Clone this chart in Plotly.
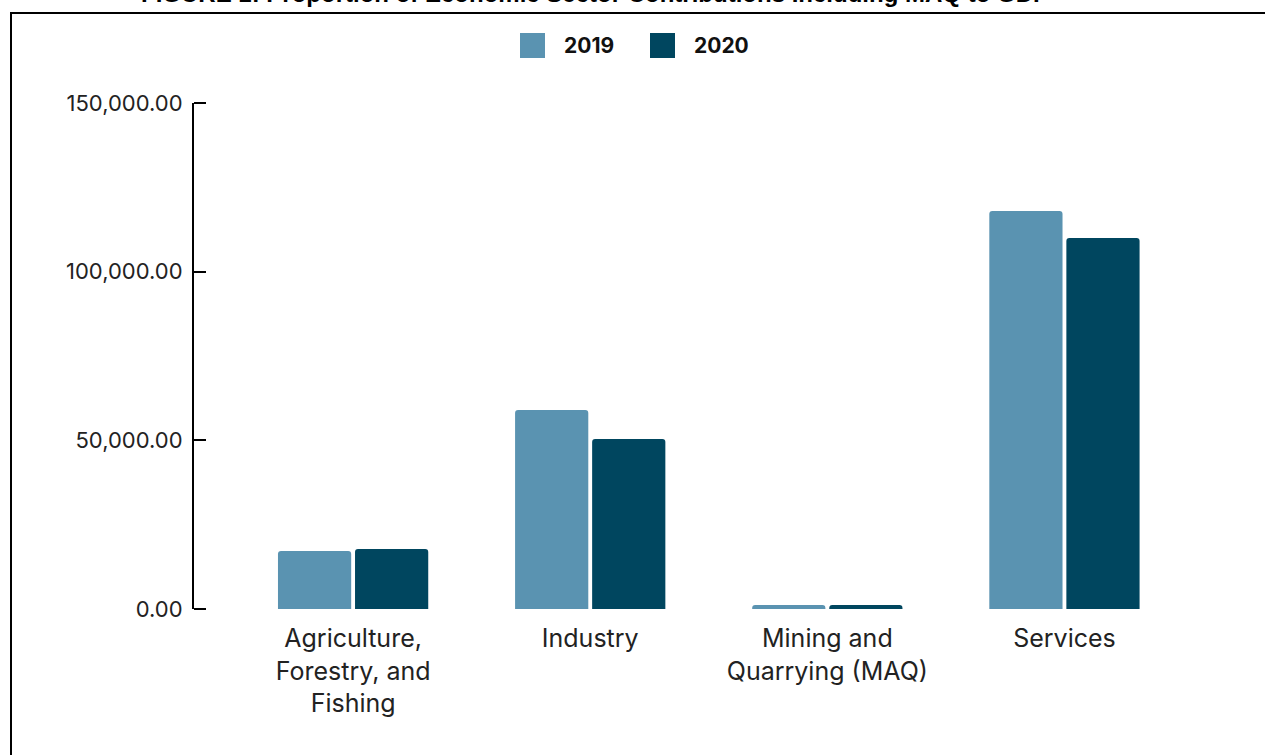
import plotly.graph_objects as go

categories = ["Agriculture,<br>Forestry, and<br>Fishing", "Industry", "Mining and<br>Quarrying (MAQ)", "Services"]
values_2019 = [17200, 59000, 1200, 118000]
values_2020 = [17800, 50400, 1200, 110000]
series_names = ["2019", "2020"]
colors = ["#5A93B1", "#00465F"]
y_ticks = [0, 50000, 100000, 150000]
title_text = "FIGURE 1: Proportion of Economic Sector Contributions Including MAQ to GDP"

W, H = 1265, 755
L, R, T, B = 194, 82, 103, 146
pw = W - L - R
ph = H - T - B

def px_x(p):
    return (p - L) / pw

def px_y(p):
    return (H - B - p) / ph

fig = go.Figure()
for name, vals, col in zip(series_names, [values_2019, values_2020], colors):
    fig.add_trace(go.Bar(x=list(range(len(categories))), y=vals, name=name,
                         marker=dict(color=col, line=dict(width=0), cornerradius=3),
                         showlegend=False))

font_family = "Inter, Roboto, sans-serif"

shapes = [
    dict(type="rect", xref="paper", yref="paper", x0=px_x(11), x1=px_x(1400), y0=px_y(13), y1=px_y(900),
         line=dict(color="black", width=2), fillcolor="rgba(0,0,0,0)", layer="below"),
]
annotations = [
    dict(text="<b>" + title_text + "</b>", xref="paper", yref="paper", x=px_x(595), y=px_y(8.5),
         xanchor="center", yanchor="bottom", showarrow=False,
         font=dict(family="Liberation Sans, Arial, sans-serif", size=24, color="black")),
]
leg = [(520, 562), (650, 692)]
for (sx, tx), name, col in zip(leg, series_names, colors):
    shapes.append(dict(type="rect", xref="paper", yref="paper", x0=px_x(sx), x1=px_x(sx + 25),
                       y0=px_y(58), y1=px_y(33), fillcolor=col, line=dict(width=0)))
    annotations.append(dict(text="<b>" + name + "</b>", xref="paper", yref="paper", x=px_x(tx), y=px_y(45.5),
                            xanchor="left", yanchor="middle", showarrow=False,
                            font=dict(family=font_family, size=21, color="#111")))

fig.update_layout(
    width=W, height=H,
    margin=dict(l=L, r=R, t=T, b=B, autoexpand=False),
    paper_bgcolor="white", plot_bgcolor="white",
    barmode="group", bargap=0.35, bargroupgap=0.05,
    showlegend=False,
    shapes=shapes, annotations=annotations,
    font=dict(family=font_family, size=20, color="#222"),
    xaxis=dict(range=[-0.671, 3.5], tickmode="array", tickvals=list(range(len(categories))),
               ticktext=categories, showline=False, ticks="", showgrid=False, zeroline=False,
               ticklabelstandoff=12,
               tickfont=dict(size=25, color="#222", family=font_family)),
    yaxis=dict(range=[0, 150000], tickvals=y_ticks, tickformat=",.2f",
               showline=True, linecolor="black", linewidth=2, ticks="", showgrid=False, zeroline=False,
               ticklabelstandoff=5,
               tickfont=dict(size=22, color="#222", family=font_family)),
    yaxis2=dict(range=[0, 150000], tickvals=y_ticks, overlaying="y", side="left", anchor="free",
                position=px_x(206), showline=False, showticklabels=False, showgrid=False, zeroline=False,
                ticks="outside", ticklen=12, tickwidth=2, tickcolor="black"),
)
# invisible helper trace so the tick-only axis is rendered
fig.add_trace(go.Scatter(x=[0], y=[0], yaxis="y2", mode="markers", marker=dict(opacity=0),
                         showlegend=False, hoverinfo="skip"))

fig.write_html("out.html", config={"displayModeBar": False},
               post_script="document.body.style.margin='0';document.body.style.overflow='hidden';")
